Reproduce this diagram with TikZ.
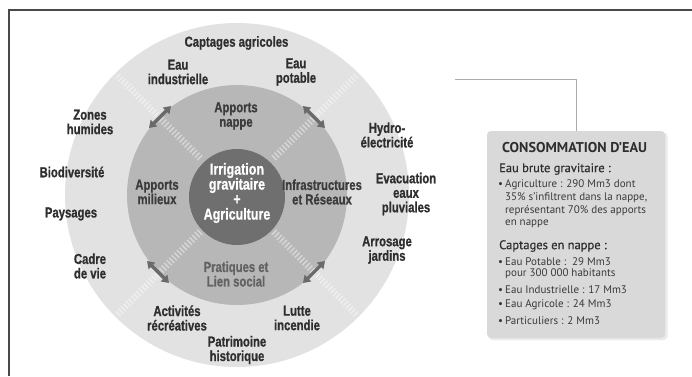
\documentclass[tikz,border=0pt]{standalone}
\usepackage{fontspec}
\setmainfont{Liberation Sans}
\newfontfamily\condfont[FakeStretch=0.78,FakeBold=0.8]{Liberation Sans}
\newfontfamily\boxfont{PT Sans}
\newfontfamily\boxheadfont[FakeBold=0.6]{PT Sans}
\usetikzlibrary{arrows.meta}
\definecolor{ringout}{HTML}{E2E2E2}
\definecolor{ringmid}{HTML}{B7B7B7}
\definecolor{ringin}{HTML}{6F6F6F}
\definecolor{lbldark}{HTML}{2E2E2E}
\definecolor{lblmid}{HTML}{3C3C3C}
\definecolor{lblsoft}{HTML}{626262}
\definecolor{arrowgray}{HTML}{6A6A6A}
\definecolor{framegray}{HTML}{4A4A4A}
\definecolor{boxfill}{HTML}{D9D9D9}
\definecolor{boxshadow}{HTML}{EAEAEA}
\definecolor{boxtext}{HTML}{3A3A3A}
\definecolor{linkgray}{HTML}{ABABAB}
\tikzset{
  lbl/.style={font=\condfont\bfseries\fontsize{14.5}{14.5}\selectfont, align=center, text=lbldark, inner sep=0pt},
  midlbl/.style={lbl, text=lblmid},
  softlbl/.style={lbl, text=lblsoft},
  innerlbl/.style={lbl, text=white, font=\condfont\bfseries\fontsize{16}{15}\selectfont},
  flowarrow/.style={draw=arrowgray, line width=3.2pt, {Triangle[length=7pt,width=9pt]}-{Triangle[length=7pt,width=9pt]}},
  divider/.style={draw=white, opacity=.45, line width=7pt, dash pattern=on 1.4pt off 2.2pt},
  boxtxt/.style={font=\boxfont\fontsize{11}{12}\selectfont, anchor=west, inner sep=0pt, text=boxtext},
  boxhead/.style={font=\boxheadfont\fontsize{12.5}{14}\selectfont, anchor=west, inner sep=0pt, text=lbldark},
  boxtitle/.style={font=\boxfont\bfseries\fontsize{14.2}{14}\selectfont, anchor=west, inner sep=0pt, text=lbldark},
}
\newcommand{\bul}{\makebox[7pt][l]{\textbullet}}
\newcommand{\ind}{\hspace*{7pt}}
\begin{document}
\begin{tikzpicture}[x=1pt,y=-1pt]
\useasboundingbox (0,0) rectangle (692,376);
\fill[white] (0,0) rectangle (692,376);
% frame
\coordinate (frTR) at (692,9.5);
\coordinate (frTL) at (9,9.5);
\coordinate (frBL) at (9,376);
\draw[framegray, line width=2pt] (frTR) -- (frTL) -- (frBL);
% rings
\coordinate (c) at (237,195);
\fill[ringout] (c) circle[radius=172];
\fill[ringmid] (c) circle[radius=110];
\fill[ringin] (237,197) circle[radius=48];
% dividers
\coordinate (dTLa) at (200.2,158.2); \coordinate (dTLb) at (116.8,74.8);
\coordinate (dTRa) at (273.8,158.2); \coordinate (dTRb) at (357.2,74.8);
\coordinate (dBLa) at (200.2,231.8); \coordinate (dBLb) at (116.8,315.2);
\coordinate (dBRa) at (273.8,231.8); \coordinate (dBRb) at (357.2,315.2);
\draw[divider] (dTLa) -- (dTLb);
\draw[divider] (dTRa) -- (dTRb);
\draw[divider] (dBLa) -- (dBLb);
\draw[divider] (dBRa) -- (dBRb);
% arrows
\coordinate (aTLa) at (149,128); \coordinate (aTLb) at (171,106);
\coordinate (aTRa) at (303,106); \coordinate (aTRb) at (325,128);
\coordinate (aBLa) at (147,261); \coordinate (aBLb) at (169,283);
\coordinate (aBRa) at (303,283); \coordinate (aBRb) at (325,261);
\draw[flowarrow] (aTLa) -- (aTLb);
\draw[flowarrow] (aTRa) -- (aTRb);
\draw[flowarrow] (aBLa) -- (aBLb);
\draw[flowarrow] (aBRa) -- (aBRb);
% center
\node[innerlbl] (center) at (237,193) {Irrigation\\gravitaire\\+\\Agriculture};
% middle ring
\node[midlbl] (nappe) at (236,116) {Apports\\nappe};
\node[midlbl] (milieux) at (157,192) {Apports\\milieux};
\node[midlbl] (infra) at (322,192) {Infrastructures\\et Réseaux};
\node[softlbl] (pratiques) at (236,274) {Pratiques et\\Lien social};
% outer ring
\node[lbl] (captages) at (236.5,43) {Captages agricoles};
\node[lbl] (eauind) at (178,72) {Eau\\industrielle};
\node[lbl] (eaupot) at (296,72) {Eau\\potable};
\node[lbl] (zones) at (90,122) {Zones\\humides};
\node[lbl] (hydro) at (387,135) {Hydro-\\électricité};
\node[lbl] (biodiv) at (72,172) {Biodiversité};
\node[lbl] (paysages) at (71,214) {Paysages};
\node[lbl] (cadre) at (90,266) {Cadre\\de vie};
\node[lbl] (evac) at (406,194) {Evacuation\\eaux\\pluviales};
\node[lbl] (arrosage) at (387,250) {Arrosage\\jardins};
\node[lbl] (activites) at (177,318) {Activités\\récréatives};
\node[lbl] (lutte) at (297,318) {Lutte\\incendie};
\node[lbl] (patrimoine) at (237,350) {Patrimoine\\historique};
% info box
\fill[boxshadow, rounded corners=4pt] (488.5,132.5) rectangle (667.5,340);
\node[fill=boxfill, rounded corners=4pt, minimum width=178pt, minimum height=207pt, inner sep=0pt] (box) at (576,234.5) {};
\coordinate (linkstart) at (455,79);
\draw[linkgray, line width=1pt] (linkstart) -| (box.north);
\node[boxtitle] (t1) at (502,148) {CONSOMMATION D’EAU};
\node[boxhead] (t2) at (499,169) {Eau brute gravitaire :};
\node[boxtxt] (t3) at (498,185) {\bul Agriculture : 290 Mm3 dont};
\node[boxtxt] (t4) at (498,198) {\ind 35\% s’infiltrent dans la nappe,};
\node[boxtxt] (t5) at (498,211) {\ind représentant 70\% des apports};
\node[boxtxt] (t6) at (498,224) {\ind en nappe};
\node[boxhead] (t7) at (499,246) {Captages en nappe :};
\node[boxtxt] (t8) at (498,262) {\bul Eau Potable :~~29 Mm3};
\node[boxtxt] (t9) at (498,274) {\ind pour 300 000 habitants};
\node[boxtxt] (t10) at (498,290) {\bul Eau Industrielle : 17 Mm3};
\node[boxtxt] (t11) at (498,305) {\bul Eau Agricole : 24 Mm3};
\node[boxtxt] (t12) at (498,321) {\bul Particuliers : 2 Mm3};
\end{tikzpicture}
\end{document}
